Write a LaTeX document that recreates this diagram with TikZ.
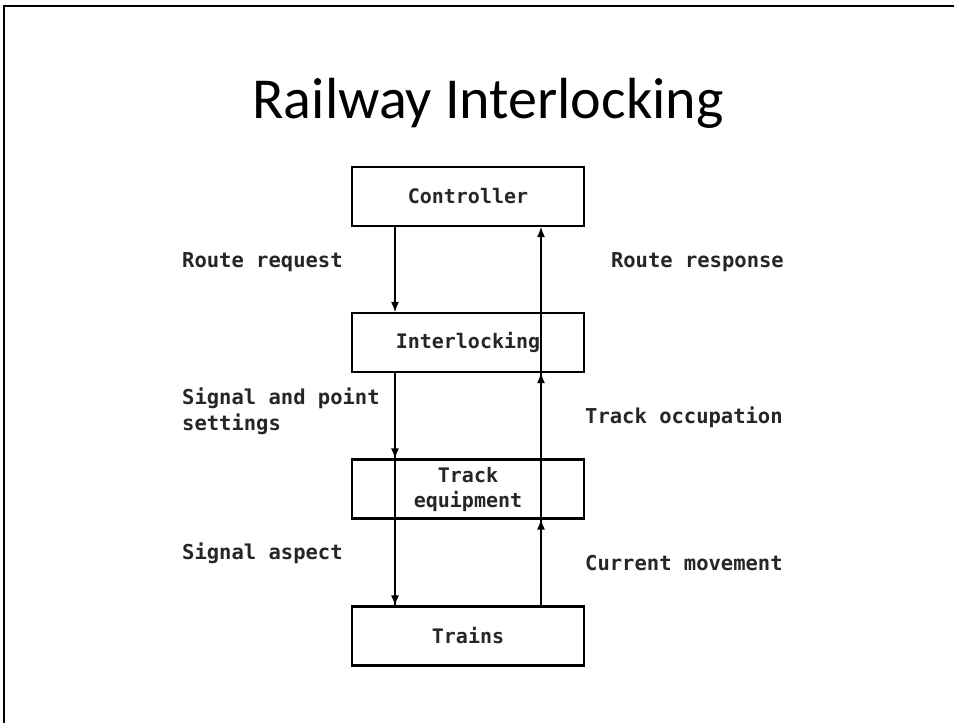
\documentclass[tikz,border=0pt]{standalone}
\usepackage{fontspec}
\setmainfont{Carlito}
\newfontfamily\monof{DejaVu Sans Mono}
\usetikzlibrary{arrows.meta}
\begin{document}
\begin{tikzpicture}[x=1pt,y=-1pt,
  blk/.style={draw, line width=2.2pt, minimum width=232pt, minimum height=59pt, inner sep=0pt, align=center, font=\monof\bfseries\fontsize{20}{25}\selectfont, text=black!85},
  lbl/.style={inner sep=0pt, align=left, font=\monof\bfseries\fontsize{20.5}{26}\selectfont, text=black!85},
  ln/.style={line width=2.2pt},
  arr/.style={ln, -{Latex[length=11pt,width=8pt]}, shorten >=-1pt}]
\useasboundingbox (0,0) rectangle (954,723);
\fill[white] (0,0) rectangle (954,723);
\draw[line width=2.5pt] (4,723) -- (4,6) -- (954,6);
\node[anchor=base, font=\fontsize{58}{60}\selectfont] (title) at (488,118) {Railway Interlocking};
\node[blk] (ctrl) at (468,196.5) {Controller};
\node[blk] (intl) at (468,342.5) {Interlocking};
\node[blk] (track) at (468,489) {Track\\equipment};
\node[blk] (trains) at (468,636) {Trains};
\coordinate (dx) at (395,0);
\coordinate (ux) at (541,0);
\draw[arr] (ctrl.south -| dx) -- (intl.north -| dx);
\draw[arr] (intl.south -| ux) -- (ctrl.south -| ux);
\draw[ln] (intl.south -| dx) -- (trains.north -| dx);
\draw[arr] (intl.south -| dx) -- (track.north -| dx);
\draw[arr] (track.south -| dx) -- (trains.north -| dx);
\draw[ln] (trains.north -| ux) -- (intl.south -| ux);
\draw[arr] (trains.north -| ux) -- (track.south -| ux);
\draw[arr] (track.north -| ux) -- (intl.south -| ux);
\node[lbl, anchor=west] (rr) at (182,262) {Route request};
\node[lbl, anchor=east] (rs) at (784,262) {Route response};
\node[lbl, anchor=north west] (sp) at (182,388) {Signal and point\\settings};
\node[lbl, anchor=west] (to) at (585,417) {Track occupation};
\node[lbl, anchor=west] (sa) at (182,553) {Signal aspect};
\node[lbl, anchor=west] (cm) at (585,563) {Current movement};
\end{tikzpicture}
\end{document}
